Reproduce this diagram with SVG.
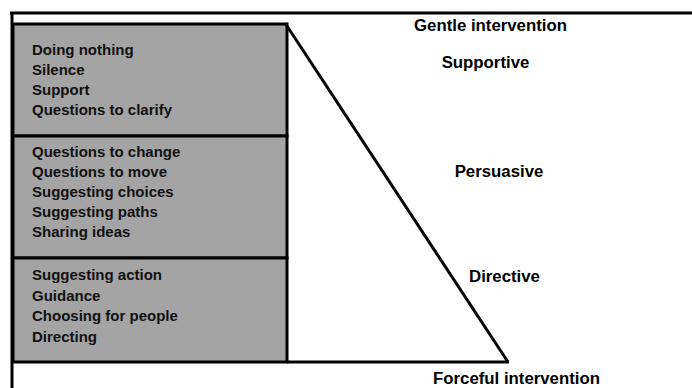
<svg xmlns="http://www.w3.org/2000/svg" width="692" height="388" viewBox="0 0 692 388">
  <style>
    .tier { fill: #a4a4a4; stroke: #000; stroke-width: 3; }
    .item { font-family: "Liberation Sans", Arial, sans-serif; font-size: 15px; font-weight: bold; fill: #111; }
    .scale { font-family: "Liberation Sans", Arial, sans-serif; font-size: 16.8px; font-weight: bold; fill: #000; text-anchor: middle; }
    .rule { stroke: #000; stroke-width: 3; fill: none; }
  </style>
  <rect width="692" height="388" fill="#fff"/>

  <!-- outer frame -->
  <g id="frame">
    <line class="rule" x1="10" y1="13" x2="692" y2="13"/>
    <line class="rule" x1="12" y1="12" x2="12" y2="388"/>
  </g>

  <!-- intervention tiers -->
  <g id="tier-supportive">
    <rect class="tier" x="13" y="24" width="274" height="112"/>
    <text class="item" x="32" y="55">Doing nothing</text>
    <text class="item" x="32" y="75">Silence</text>
    <text class="item" x="32" y="95">Support</text>
    <text class="item" x="32" y="115">Questions to clarify</text>
  </g>
  <g id="tier-persuasive">
    <rect class="tier" x="13" y="136" width="274" height="122"/>
    <text class="item" x="32" y="157">Questions to change</text>
    <text class="item" x="32" y="177">Questions to move</text>
    <text class="item" x="32" y="197">Suggesting choices</text>
    <text class="item" x="32" y="217">Suggesting paths</text>
    <text class="item" x="32" y="237">Sharing ideas</text>
  </g>
  <g id="tier-directive">
    <rect class="tier" x="13" y="258" width="274" height="104"/>
    <text class="item" x="32" y="280">Suggesting action</text>
    <text class="item" x="32" y="301">Guidance</text>
    <text class="item" x="32" y="321">Choosing for people</text>
    <text class="item" x="32" y="342">Directing</text>
  </g>

  <!-- wedge showing rising force -->
  <g id="connectors">
    <line class="rule" x1="285" y1="23" x2="508" y2="362"/>
    <line class="rule" x1="287" y1="362" x2="509" y2="362"/>
  </g>

  <!-- scale labels -->
  <g id="scale-labels">
    <text class="scale" x="490.5" y="31">Gentle intervention</text>
    <text class="scale" x="485.5" y="68">Supportive</text>
    <text class="scale" x="499" y="177">Persuasive</text>
    <text class="scale" x="504.5" y="282">Directive</text>
    <text class="scale" x="516.5" y="384">Forceful intervention</text>
  </g>
</svg>
